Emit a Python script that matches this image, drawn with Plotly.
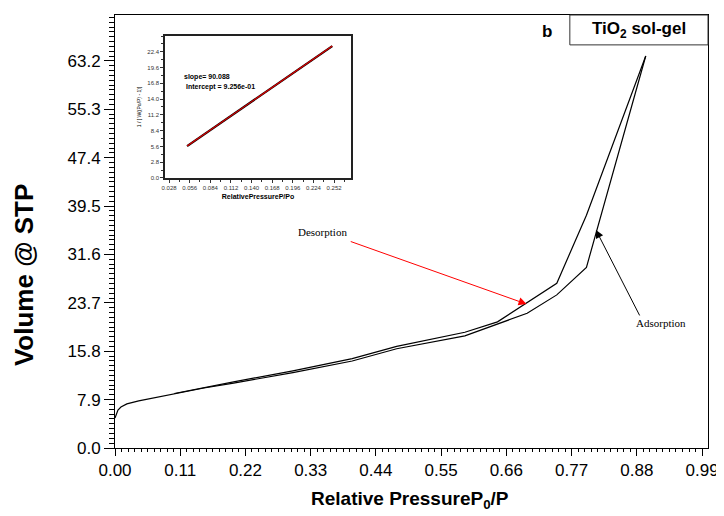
import plotly.graph_objects as go

# Main isotherm data (relative pressure, volume @ STP)
ads_p = [0.0, 0.002, 0.005, 0.01, 0.02, 0.04, 0.07, 0.10, 0.15, 0.20, 0.30, 0.40, 0.475, 0.59, 0.695, 0.745, 0.795, 0.895]
ads_v = [4.9, 5.6, 6.2, 6.7, 7.2, 7.7, 8.3, 8.9, 9.8, 10.6, 12.3, 14.2, 16.2, 18.3, 22.0, 25.0, 29.5, 64.0]
des_p = [0.895, 0.795, 0.745, 0.645, 0.59, 0.475, 0.40, 0.30, 0.20, 0.15, 0.10]
des_v = [64.0, 38.0, 26.9, 20.6, 18.9, 16.6, 14.6, 12.6, 10.8, 9.9, 8.9]

# Inset BET data
bet_x = [0.0525, 0.10, 0.15, 0.20, 0.2496]
bet_y = [5.66, 9.93, 14.44, 18.94, 23.41]

x_ticks = [0.00, 0.11, 0.22, 0.33, 0.44, 0.55, 0.66, 0.77, 0.88, 0.99]
y_ticks = [0.0, 7.9, 15.8, 23.7, 31.6, 39.5, 47.4, 55.3, 63.2]
ix_ticks = [0.028, 0.056, 0.084, 0.112, 0.140, 0.168, 0.196, 0.224, 0.252]
iy_ticks = [0.0, 2.8, 5.6, 8.4, 11.2, 14.0, 16.8, 19.6, 22.4]

FONT = "Liberation Sans, Arial, sans-serif"
SERIF = "Liberation Serif, Times New Roman, serif"

fig = go.Figure()
fig.add_trace(go.Scatter(x=ads_p, y=ads_v, mode="lines", line=dict(color="black", width=1.2),
                         showlegend=False, hoverinfo="skip"))
fig.add_trace(go.Scatter(x=des_p, y=des_v, mode="lines", line=dict(color="black", width=1.2),
                         showlegend=False, hoverinfo="skip"))
fig.add_trace(go.Scatter(x=bet_x, y=bet_y, mode="lines", line=dict(color="black", width=2.2),
                         xaxis="x2", yaxis="y2", showlegend=False, hoverinfo="skip"))
fig.add_trace(go.Scatter(x=bet_x, y=bet_y, mode="lines", line=dict(color="#dd0000", width=1.2),
                         xaxis="x2", yaxis="y2", showlegend=False, hoverinfo="skip"))

# The page adds an 8px body margin, so the figure is drawn 8px smaller and offset.
fig.update_layout(
    width=716, height=508,
    margin=dict(l=107, r=16, t=7, b=68, autoexpand=False),
    paper_bgcolor="white", plot_bgcolor="white",
    font=dict(family=FONT, color="black"),
    xaxis=dict(range=[0, 1.0], tickvals=x_ticks, ticktext=[f"{v:.2f}" for v in x_ticks],
               ticks="outside", ticklen=7, tickwidth=1, tickcolor="black",
               minor=dict(dtick=0.011, tick0=0, ticks="outside", ticklen=3, tickcolor="black"),
               showline=True, linecolor="black", linewidth=1, mirror=True,
               showgrid=False, zeroline=False, automargin=False,
               tickfont=dict(size=17, family=FONT)),
    yaxis=dict(range=[0, 70.7], tickvals=y_ticks, ticktext=[f"{v:.1f}" for v in y_ticks],
               ticks="outside", ticklen=10, tickwidth=1, tickcolor="black",
               minor=dict(dtick=0.79, tick0=0, ticks="outside", ticklen=5, tickcolor="black"),
               showline=True, linecolor="black", linewidth=1, mirror=True,
               showgrid=False, zeroline=False, automargin=False,
               tickfont=dict(size=17, family=FONT)),
    xaxis2=dict(domain=[0.0843, 0.398], anchor="y2", range=[0.0225, 0.275],
                tickvals=ix_ticks, ticktext=[f"{v:.3f}" for v in ix_ticks],
                ticks="outside", ticklen=3, tickcolor="#333",
                minor=dict(dtick=0.014, tick0=0, ticks="outside", ticklen=2, tickcolor="#333"),
                showline=True, linecolor="#222", linewidth=1.5, mirror=True,
                showgrid=False, zeroline=False, automargin=False,
                tickfont=dict(size=6, family=FONT, color="#333"),
                title=dict(text="<b>RelativePressureP/Po</b>", font=dict(size=7, family=FONT), standoff=4)),
    yaxis2=dict(domain=[0.6236, 0.9515], anchor="x2", range=[0, 25.2],
                tickvals=iy_ticks, ticktext=[f"{v:.1f}" for v in iy_ticks],
                ticks="outside", ticklen=3, tickcolor="#333",
                minor=dict(dtick=1.4, tick0=0, ticks="outside", ticklen=2, tickcolor="#333"),
                showline=True, linecolor="#222", linewidth=1.5, mirror=True,
                showgrid=False, zeroline=False, automargin=False,
                tickfont=dict(size=6, family=FONT, color="#333"),
                title=dict(text="1 / [ W((Po/P) - 1)]", font=dict(size=5, family=FONT), standoff=6)),
)

# Main axis titles
fig.add_annotation(xref="paper", yref="paper", x=-0.153, y=0.40, xanchor="center", yanchor="middle",
                   text="<b>Volume @ STP</b>", textangle=-90, showarrow=False,
                   font=dict(size=26, family=FONT))
fig.add_annotation(xref="paper", yref="paper", x=0.497, y=-0.12, xanchor="center", yanchor="middle",
                   text="<b>Relative PressureP<sub>0</sub>/P</b>", showarrow=False,
                   font=dict(size=19, family=FONT))

# Inset text
fig.add_annotation(xref="x2", yref="y2", x=0.046, y=18.0, xanchor="left", yanchor="middle",
                   text="<b>slope= 90.088</b>", showarrow=False, font=dict(size=7, family=FONT))
fig.add_annotation(xref="x2", yref="y2", x=0.048, y=16.2, xanchor="left", yanchor="middle",
                   text="<b>Intercept = 9.256e-01</b>", showarrow=False, font=dict(size=7, family=FONT))

# Desorption arrow + label
fig.add_annotation(xref="x", yref="y", x=0.694, y=23.5, ax=0.395, ay=33.8, axref="x", ayref="y",
                   text="", showarrow=True, arrowhead=2, arrowsize=1.6, arrowwidth=1, arrowcolor="#ff0000")
fig.add_annotation(xref="x", yref="y", x=0.35, y=35.3, text="Desorption", showarrow=False,
                   xanchor="center", yanchor="middle", font=dict(size=11, family=SERIF))
# Adsorption arrow + label
fig.add_annotation(xref="x", yref="y", x=0.811, y=35.6, ax=0.886, ay=21.4, axref="x", ayref="y",
                   text="", showarrow=True, arrowhead=2, arrowsize=1.6, arrowwidth=1, arrowcolor="black")
fig.add_annotation(xref="x", yref="y", x=0.92, y=20.4, text="Adsorption", showarrow=False,
                   xanchor="center", yanchor="middle", font=dict(size=11, family=SERIF))

# Title box
fig.add_shape(type="rect", xref="paper", yref="paper", x0=0.767, x1=1.0, y0=0.931, y1=1.0,
              line=dict(color="#333", width=1), fillcolor="white", layer="above")
fig.add_annotation(xref="paper", yref="paper", x=0.8836, y=0.966, xanchor="center", yanchor="middle",
                   text="<b>TiO<sub>2</sub> sol-gel</b>", showarrow=False, font=dict(size=17, family=FONT))
fig.add_annotation(xref="paper", yref="paper", x=0.7285, y=0.962, xanchor="center", yanchor="middle",
                   text="<b>b</b>", showarrow=False, font=dict(size=17, family=FONT))

fig.write_html("out.html")
